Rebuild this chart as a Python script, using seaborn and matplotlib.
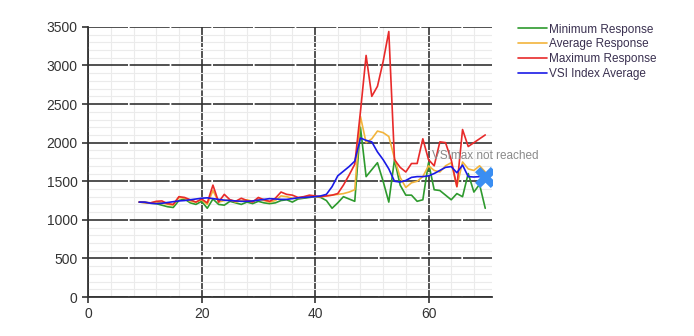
import pandas as pd
import matplotlib
matplotlib.use("Agg")
import matplotlib.pyplot as plt
from matplotlib.ticker import MultipleLocator
import seaborn as sns

# sessions on x, response time (ms) on y
sessions = list(range(9, 71))

min_resp = [1230, 1225, 1215, 1210, 1190, 1170, 1160, 1250, 1270, 1220,
            1200, 1240, 1150, 1270, 1200, 1190, 1240, 1220, 1200, 1230,
            1210, 1240, 1220, 1210, 1220, 1250, 1260, 1230, 1270, 1280,
            1290, 1300,
            1290, 1250, 1150, 1220, 1300, 1270, 1240, 2200, 1560, 1650,
            1740, 1500, 1230, 1780, 1450, 1320, 1320, 1240, 1260, 1740,
            1390, 1380, 1320, 1260, 1340, 1300, 1600, 1360, 1460, 1150]
avg_resp = [1230, 1225, 1220, 1230, 1220, 1200, 1190, 1290, 1280, 1240,
            1230, 1260, 1200, 1380, 1230, 1250, 1260, 1230, 1250, 1260,
            1240, 1270, 1250, 1230, 1250, 1310, 1300, 1280, 1280, 1290,
            1300, 1300,
            1300, 1310, 1320, 1330, 1340, 1360, 1390, 2340, 2000, 2050,
            2150, 2130, 2080, 1800, 1550, 1420, 1480, 1500, 1560, 1700,
            1640, 1620, 1700, 1740, 1430, 1750, 1660, 1640, 1700, 1620]
max_resp = [1230, 1225, 1220, 1240, 1245, 1210, 1200, 1300, 1290, 1260,
            1230, 1270, 1220, 1450, 1230, 1330, 1260, 1240, 1280, 1250,
            1230, 1290, 1260, 1240, 1280, 1360, 1330, 1320, 1290, 1300,
            1320, 1310,
            1300, 1310, 1320, 1340, 1450, 1580, 1720, 2400, 3130, 2600,
            2730, 3050, 3440, 1780, 1680, 1620, 1730, 1730, 2050, 1780,
            1700, 2010, 2000, 1780, 1430, 2170, 1950, 2000, 2050, 2100]
vsi_avg = [1230, 1230, 1215, 1210, 1215, 1225, 1235, 1245, 1250, 1260,
           1270, 1280, 1285, 1275, 1265, 1255, 1250, 1245, 1240, 1240,
           1245, 1255, 1265, 1275, 1270, 1265, 1265, 1275, 1285, 1290,
           1295, 1300,
           1310, 1330, 1430, 1570, 1630, 1690, 1760, 2060, 2030, 2010,
           1880, 1780, 1660, 1500, 1490, 1510, 1550, 1560, 1560, 1570,
           1600, 1640, 1680, 1690, 1610, 1710, 1560, 1555, 1560, 1560]

series_names = ["Minimum Response", "Average Response",
                "Maximum Response", "VSI Index Average"]
series_colors = ["#2e9a2e", "#f2b43c", "#e82a2a", "#1a1ae6"]

vsimax_x = [70]
vsimax_y = [1560]
vsimax_label = "VSImax not reached"

df = pd.concat([
    pd.DataFrame({"session": sessions, "ms": vals, "series": name})
    for name, vals in zip(series_names, [min_resp, avg_resp, max_resp, vsi_avg])
])

sns.set_style("white")
plt.rcParams["font.family"] = ["Liberation Sans", "DejaVu Sans"]

fig = plt.figure(figsize=(6.94, 3.36), dpi=100)
ax = fig.add_axes([0.127, 0.116, 0.582, 0.804])

sns.lineplot(data=df, x="session", y="ms", hue="series", hue_order=series_names,
             palette=series_colors, linewidth=1.2, ax=ax, zorder=3)
sns.scatterplot(x=vsimax_x, y=vsimax_y, marker="X", s=230, color="#3a8ef2",
                linewidth=0, ax=ax, zorder=5, legend=False)
ax.annotate(vsimax_label, xy=(vsimax_x[0], vsimax_y[0]), xytext=(-38, 15),
            textcoords="offset points", ha="left", va="center",
            fontsize=8.5, color="#8a8a8a", annotation_clip=False, zorder=6)

ax.set_xlim(0, 71.2)
ax.set_ylim(0, 3500)
ax.xaxis.set_major_locator(MultipleLocator(20))
ax.xaxis.set_minor_locator(MultipleLocator(4))
ax.yaxis.set_major_locator(MultipleLocator(500))
ax.yaxis.set_minor_locator(MultipleLocator(100))
ax.grid(which="minor", color="#ebebeb", linewidth=0.8)
ax.grid(which="major", color="#333333", linewidth=1.2, linestyle=(0, (24, 1)))
ax.set_axisbelow(True)
ax.set_xlabel("")
ax.set_ylabel("")
ax.tick_params(axis="both", which="major", labelsize=10, labelcolor="#333333",
               color="#333333", length=4, width=1.2, left=True, bottom=True)
ax.tick_params(which="minor", length=0)
for side in ["top", "right"]:
    ax.spines[side].set_visible(False)
for side in ["left", "bottom"]:
    ax.spines[side].set_color("#333333")
    ax.spines[side].set_linewidth(1.3)

ax.legend(loc="upper left", bbox_to_anchor=(0.747, 0.93),
          bbox_transform=fig.transFigure, frameon=False, fontsize=8.5,
          labelspacing=0.25, handlelength=2.4, handletextpad=0.2,
          borderpad=0, borderaxespad=0, labelcolor="#3a3050")

fig.savefig("out.png", dpi=100)
